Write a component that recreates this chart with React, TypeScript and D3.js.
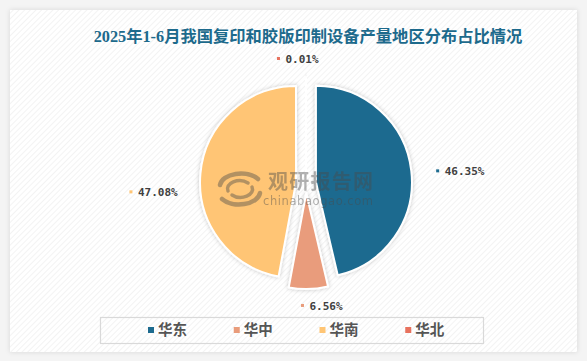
import React from 'react';
import * as d3 from 'd3';

const categories = ['华东', '华中', '华南', '华北'];
const values = [46.35, 6.56, 47.08, 0.01];
const valueLabels = ['46.35%', '6.56%', '47.08%', '0.01%'];
const colors = ['#1d6b8f', '#e99c7b', '#ffc574', '#e8725e'];
const labelNudgeX = [3, 12.5, -1.5, -8.5];
const labelNudgeY = [3, -5, 21, 4];
const title = '2025年1-6月我国复印和胶版印制设备产量地区分布占比情况';

const W = 587;
const H = 361;
const cx = 306;
const cy = 183;
const R = 96;
const explode = 10;
const labelR = 128;

export default function App() {
  const pie = d3
    .pie<number>()
    .sort(null)
    .value((d) => d)
    .startAngle(0)
    .endAngle(2 * Math.PI);
  const arcs = pie(values);
  const arcGen = d3.arc<d3.PieArcDatum<number>>().innerRadius(0).outerRadius(R);
  const labelArc = d3.arc<d3.PieArcDatum<number>>().innerRadius(labelR).outerRadius(labelR);

  const legendX = d3.scaleBand<string>().domain(categories).range([148, 491]);

  return (
    <svg
      width={W}
      height={H}
      style={{ position: 'absolute', left: 0, top: 0 }}
      xmlns="http://www.w3.org/2000/svg"
    >
      <defs>
        <pattern id="hatch" width="4" height="4" patternUnits="userSpaceOnUse" patternTransform="rotate(45)">
          <rect width="4" height="4" fill="#ffffff" />
          <line x1="0" y1="0" x2="0" y2="4" stroke="#ececec" strokeWidth="1.2" />
        </pattern>
        <filter id="panelShadow" x="-5%" y="-5%" width="110%" height="110%">
          <feDropShadow dx="0" dy="0" stdDeviation="2.5" floodColor="#000" floodOpacity="0.12" />
        </filter>
        <filter id="sliceShadow" x="-20%" y="-20%" width="140%" height="140%">
          <feDropShadow dx="0" dy="0" stdDeviation="2" floodColor="#000" floodOpacity="0.22" />
        </filter>
      </defs>
      <rect x={0} y={0} width={W} height={H} fill="#f4f4f4" />
      <rect x={10} y={10} width={567} height={342} fill="url(#hatch)" filter="url(#panelShadow)" />

      <text
        x={308}
        y={42}
        textAnchor="middle"
        fontFamily="'Liberation Serif', 'Noto Sans CJK SC', serif"
        fontWeight="bold"
        fontSize={16.3}
        fill="#1d6a8c"
      >
        {title}
      </text>

      <g transform={`translate(${cx},${cy})`}>
        {arcs.map((a, i) => {
          const mid = (a.startAngle + a.endAngle) / 2;
          const tx = explode * Math.sin(mid);
          const ty = -explode * Math.cos(mid);
          return (
            <path
              key={categories[i]}
              d={arcGen(a) || ''}
              transform={`translate(${tx},${ty})`}
              fill={colors[i]}
              stroke="#ffffff"
              strokeWidth={2}
              strokeLinejoin="round"
              filter="url(#sliceShadow)"
            />
          );
        })}
      </g>

      {/* watermark */}
      <g opacity={0.42} fill="#4a4a4a">
        <g transform="translate(240,189)" fill="none" stroke="#4a4a4a" strokeLinecap="round">
          <path d="M-20,-4 A21,13 0 0 1 18,-10" strokeWidth={4.5} />
          <path d="M20,4 A21,13 0 0 1 -18,10" strokeWidth={4.5} />
          <path d="M-12,2 A12,8 0 0 1 8,-6" strokeWidth={3.5} />
          <path d="M12,-2 A12,8 0 0 1 -8,6" strokeWidth={3.5} />
        </g>
        <text x={268} y={189} fontFamily="'Noto Sans CJK SC', sans-serif" fontWeight="bold" fontSize={20} textLength={105}>
          观研报告网
        </text>
        <text x={263} y={205} fontFamily="'DejaVu Sans', sans-serif" fontSize={11.5} textLength={110}>
          chinabaogao.com
        </text>
      </g>

      {arcs.map((a, i) => {
        const [lx, ly] = labelArc.centroid(a);
        const mid = (a.startAngle + a.endAngle) / 2;
        const s = Math.sin(mid);
        const w = 8 + valueLabels[i].length * 6.6;
        let left = cx + lx;
        if (s < -0.3) left = cx + lx - w;
        else if (s <= 0.3) left = cx + lx - w / 2;
        left += labelNudgeX[i];
        const yc = cy + ly + labelNudgeY[i];
        return (
          <g key={'lab' + i}>
            <rect x={left} y={yc - 2} width={3} height={3} fill={colors[i]} />
            <text
              x={left + 8.5}
              y={yc + 4}
              fontFamily="'DejaVu Sans Mono', monospace"
              fontWeight="bold"
              fontSize={11}
              fill="#404040"
            >
              {valueLabels[i]}
            </text>
          </g>
        );
      })}

      <rect x={100.5} y={317.5} width={383} height={26} fill="none" stroke="#d9d9d9" strokeWidth={1.2} />
      {categories.map((c, i) => {
        const x = legendX(c) as number;
        return (
          <g key={'leg' + c}>
            <rect x={x} y={327} width={6} height={6} fill={colors[i]} />
            <text
              x={x + 10}
              y={335}
              fontFamily="'Noto Sans CJK SC', sans-serif"
              fontWeight="bold"
              fontSize={14.5}
              fill="#555555"
            >
              {c}
            </text>
          </g>
        );
      })}
    </svg>
  );
}
